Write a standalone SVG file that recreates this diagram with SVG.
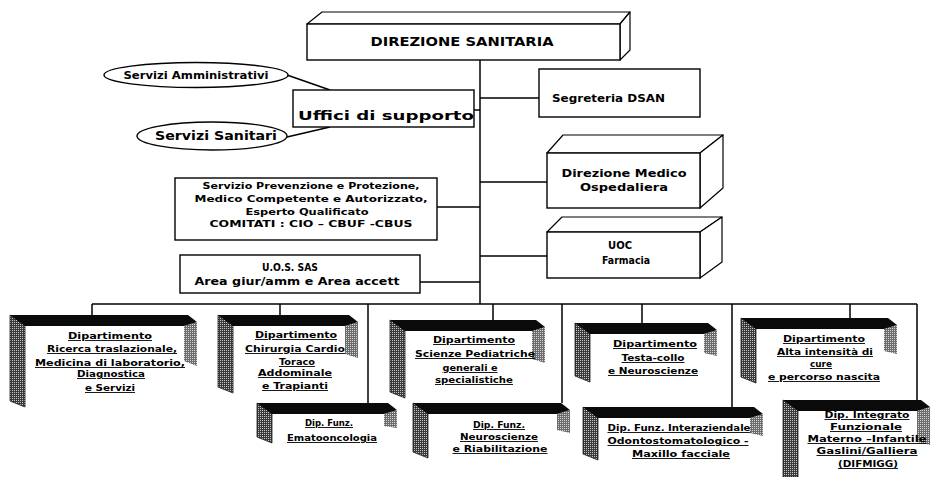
<svg xmlns="http://www.w3.org/2000/svg" width="930" height="477" viewBox="0 0 930 477">
  <defs>
    <!-- coarse halftone used for the shaded sides of the department frames -->
    <pattern id="dither" width="2" height="2" patternUnits="userSpaceOnUse">
      <rect width="2" height="2" fill="#3a3a3a"/>
      <rect width="1" height="1" fill="#c8c8c8"/>
    </pattern>
    <style>
      .box { fill: #fff; stroke: #000; stroke-width: 1.4; }
      .face { fill: #fff; stroke: #000; stroke-width: 1.2; stroke-linejoin: round; }
      .wire { fill: none; stroke: #000; stroke-width: 1.5; }
      .t { font-family: "DejaVu Sans", "Liberation Sans", sans-serif; font-weight: bold; fill: #000; }
      .c { text-anchor: middle; }
      .d { font-size: 9px; text-decoration: underline; text-anchor: middle; }
      .side { fill: url(#dither); stroke: #1a1a1a; stroke-width: 0.8; }
      .rside { fill: url(#dither); opacity: 0.75; }
      .bar { fill: #0a0a0a; }
    </style>
  </defs>

  <rect width="930" height="477" fill="#fff"/>

  <!-- connectors -->
  <g id="connectors" class="wire">
    <line x1="480" y1="60" x2="480" y2="304"/>
    <line x1="480" y1="98" x2="539" y2="98"/>
    <line x1="474" y1="110" x2="480" y2="110"/>
    <line x1="480" y1="182" x2="547" y2="182"/>
    <line x1="437" y1="207" x2="480" y2="207"/>
    <line x1="480" y1="256" x2="547" y2="256"/>
    <line x1="420" y1="282" x2="480" y2="282"/>
    <line x1="287" y1="75" x2="330" y2="90"/>
    <line x1="287" y1="137" x2="330" y2="127"/>
    <!-- horizontal bus to the departments -->
    <line x1="92" y1="304" x2="917" y2="304"/>
    <line x1="92" y1="304" x2="92" y2="315"/>
    <line x1="280" y1="304" x2="280" y2="315"/>
    <line x1="368" y1="304" x2="368" y2="403"/>
    <line x1="493" y1="304" x2="493" y2="320"/>
    <line x1="562" y1="304" x2="562" y2="403"/>
    <line x1="642" y1="304" x2="642" y2="323"/>
    <line x1="732" y1="304" x2="732" y2="407"/>
    <line x1="850" y1="304" x2="850" y2="318"/>
    <line x1="917" y1="304" x2="917" y2="400"/>
  </g>

  <!-- top management block -->
  <g id="direzione-sanitaria">
    <polygon class="face" points="307,24 322,12 630,12 620,24"/>
    <polygon class="face" points="620,24 630,12 630,50 620,60"/>
    <rect class="box" x="307" y="24" width="313" height="36"/>
    <text class="t c" x="462" y="46" font-size="13" textLength="183" lengthAdjust="spacingAndGlyphs">DIREZIONE SANITARIA</text>
  </g>

  <g id="servizi-amministrativi">
    <ellipse class="box" cx="196" cy="75" rx="92" ry="12.5"/>
    <text class="t c" x="196" y="79" font-size="10.5" textLength="145" lengthAdjust="spacingAndGlyphs">Servizi Amministrativi</text>
  </g>

  <g id="servizi-sanitari">
    <ellipse class="box" cx="212" cy="136" rx="75" ry="14"/>
    <text class="t c" x="216" y="140" font-size="12.5" textLength="122" lengthAdjust="spacingAndGlyphs">Servizi Sanitari</text>
  </g>

  <g id="uffici-supporto">
    <rect class="box" x="293" y="90" width="181" height="37"/>
    <text class="t" x="298" y="120" font-size="13" textLength="176" lengthAdjust="spacingAndGlyphs">Uffici di supporto</text>
  </g>

  <g id="segreteria-dsan">
    <rect class="box" x="539" y="69" width="161" height="48"/>
    <text class="t" x="552" y="102" font-size="10" textLength="113" lengthAdjust="spacingAndGlyphs">Segreteria DSAN</text>
  </g>

  <g id="direzione-medico">
    <polygon class="face" points="547,153 563,135 723,135 700,153"/>
    <polygon class="face" points="700,153 723,135 723,188 700,208"/>
    <rect class="box" x="547" y="153" width="153" height="55"/>
    <text class="t c" x="624" y="177" font-size="10" textLength="125" lengthAdjust="spacingAndGlyphs">Direzione Medico</text>
    <text class="t c" x="624" y="191" font-size="10" textLength="88" lengthAdjust="spacingAndGlyphs">Ospedaliera</text>
  </g>

  <g id="uoc-farmacia">
    <polygon class="face" points="547,232 562,217 722,217 700,232"/>
    <polygon class="face" points="700,232 722,217 722,262 700,278"/>
    <rect class="box" x="547" y="232" width="153" height="46"/>
    <text class="t c" x="620" y="249" font-size="10" textLength="24" lengthAdjust="spacingAndGlyphs">UOC</text>
    <text class="t c" x="626" y="264" font-size="10" textLength="48" lengthAdjust="spacingAndGlyphs">Farmacia</text>
  </g>

  <g id="servizio-prevenzione">
    <rect class="box" x="175" y="178" width="262" height="62"/>
    <text class="t c" x="311" y="189" font-size="9" textLength="217" lengthAdjust="spacingAndGlyphs">Servizio Prevenzione e Protezione,</text>
    <text class="t c" x="311" y="202" font-size="9" textLength="233" lengthAdjust="spacingAndGlyphs">Medico Competente e Autorizzato,</text>
    <text class="t c" x="307" y="215" font-size="9" textLength="123" lengthAdjust="spacingAndGlyphs">Esperto Qualificato</text>
    <text class="t c" x="311" y="227" font-size="9" textLength="203" lengthAdjust="spacingAndGlyphs">COMITATI : CIO – CBUF -CBUS</text>
  </g>

  <g id="uos-sas">
    <rect class="box" x="180" y="255" width="240" height="38"/>
    <text class="t c" x="290" y="271" font-size="11" textLength="56" lengthAdjust="spacingAndGlyphs">U.O.S. SAS</text>
    <text class="t c" x="297" y="285" font-size="11" textLength="205" lengthAdjust="spacingAndGlyphs">Area giur/amm  e Area accett</text>
  </g>

  <!-- departments, first row -->
  <g id="dip-ricerca">
    <rect x="25" y="326" width="159" height="81" fill="#fff"/>
    <polygon class="side" points="10,315 25,325 25,407 10,401"/>
    <polygon class="rside" points="184,326 197,322 197,366 184,361"/>
    <polygon class="bar" points="10,315 188,315 197,322 184,326 25,326"/>
    <text class="t d" x="110" y="339" textLength="84" lengthAdjust="spacingAndGlyphs">Dipartimento</text>
    <text class="t d" x="112" y="352" textLength="130" lengthAdjust="spacingAndGlyphs">Ricerca traslazionale,</text>
    <text class="t d" x="110" y="366" textLength="150" lengthAdjust="spacingAndGlyphs">Medicina di laboratorio,</text>
    <text class="t d" x="111" y="377" textLength="68" lengthAdjust="spacingAndGlyphs">Diagnostica</text>
    <text class="t d" x="110" y="391" textLength="50" lengthAdjust="spacingAndGlyphs">e Servizi</text>
  </g>

  <g id="dip-chirurgia">
    <rect x="233" y="326" width="112" height="67" fill="#fff"/>
    <polygon class="side" points="218,315 233,325 233,393 218,387"/>
    <polygon class="rside" points="345,326 358,322 358,358 345,354"/>
    <polygon class="bar" points="218,315 349,315 358,322 345,326 233,326"/>
    <text class="t d" x="296" y="338" textLength="82" lengthAdjust="spacingAndGlyphs">Dipartimento</text>
    <text class="t d" x="295" y="352" textLength="100" lengthAdjust="spacingAndGlyphs">Chirurgia Cardio</text>
    <text class="t d" x="297" y="365" textLength="36" lengthAdjust="spacingAndGlyphs">Toraco</text>
    <text class="t d" x="295" y="376" textLength="74" lengthAdjust="spacingAndGlyphs">Addominale</text>
    <text class="t d" x="295" y="389" textLength="66" lengthAdjust="spacingAndGlyphs">e Trapianti</text>
  </g>

  <g id="dip-pediatria">
    <rect x="405" y="331" width="127" height="67" fill="#fff"/>
    <polygon class="side" points="390,320 405,330 405,398 390,392"/>
    <polygon class="rside" points="532,331 545,327 545,363 532,359"/>
    <polygon class="bar" points="390,320 536,320 545,327 532,331 405,331"/>
    <text class="t d" x="474" y="343" textLength="82" lengthAdjust="spacingAndGlyphs">Dipartimento</text>
    <text class="t d" x="475" y="357" textLength="120" lengthAdjust="spacingAndGlyphs">Scienze Pediatriche</text>
    <text class="t d" x="470" y="371" textLength="55" lengthAdjust="spacingAndGlyphs">generali e</text>
    <text class="t d" x="474" y="383" textLength="78" lengthAdjust="spacingAndGlyphs">specialistiche</text>
  </g>

  <g id="dip-testa-collo">
    <rect x="590" y="334" width="114" height="48" fill="#fff"/>
    <polygon class="side" points="575,323 590,333 590,382 575,376"/>
    <polygon class="rside" points="704,334 717,330 717,356 704,353"/>
    <polygon class="bar" points="575,323 708,323 717,330 704,334 590,334"/>
    <text class="t d" x="655" y="347" textLength="84" lengthAdjust="spacingAndGlyphs">Dipartimento</text>
    <text class="t d" x="653" y="361" textLength="63" lengthAdjust="spacingAndGlyphs">Testa-collo</text>
    <text class="t d" x="653" y="374" textLength="90" lengthAdjust="spacingAndGlyphs">e Neuroscienze</text>
  </g>

  <g id="dip-alta-intensita">
    <rect x="756" y="329" width="128" height="54" fill="#fff"/>
    <polygon class="side" points="741,318 756,328 756,383 741,377"/>
    <polygon class="rside" points="884,329 897,325 897,354 884,351"/>
    <polygon class="bar" points="741,318 888,318 897,325 884,329 756,329"/>
    <text class="t d" x="824" y="342" textLength="82" lengthAdjust="spacingAndGlyphs">Dipartimento</text>
    <text class="t d" x="825" y="355" textLength="96" lengthAdjust="spacingAndGlyphs">Alta intensità di</text>
    <text class="t d" x="821" y="367" textLength="22" lengthAdjust="spacingAndGlyphs">cure</text>
    <text class="t d" x="824" y="380" textLength="112" lengthAdjust="spacingAndGlyphs">e percorso nascita</text>
  </g>

  <!-- departments, second row -->
  <g id="dip-ematooncologia">
    <rect x="272" y="414" width="112" height="29" fill="#fff"/>
    <polygon class="side" points="257,403 272,413 272,443 257,437"/>
    <polygon class="rside" points="384,414 397,410 397,428 384,426"/>
    <polygon class="bar" points="257,403 388,403 397,410 384,414 272,414"/>
    <text class="t d" x="329" y="426" textLength="48" lengthAdjust="spacingAndGlyphs">Dip. Funz.</text>
    <text class="t d" x="332" y="441" textLength="90" lengthAdjust="spacingAndGlyphs">Ematooncologia</text>
  </g>

  <g id="dip-neuroscienze">
    <rect x="428" y="414" width="129" height="44" fill="#fff"/>
    <polygon class="side" points="413,403 428,413 428,458 413,452"/>
    <polygon class="rside" points="557,414 570,410 570,433 557,430"/>
    <polygon class="bar" points="413,403 561,403 570,410 557,414 428,414"/>
    <text class="t d" x="499" y="428" textLength="52" lengthAdjust="spacingAndGlyphs">Dip. Funz.</text>
    <text class="t d" x="499" y="440" textLength="78" lengthAdjust="spacingAndGlyphs">Neuroscienze</text>
    <text class="t d" x="500" y="452" textLength="95" lengthAdjust="spacingAndGlyphs">e Riabilitazione</text>
  </g>

  <g id="dip-odontostomatologico">
    <rect x="598" y="418" width="152" height="42" fill="#fff"/>
    <polygon class="side" points="583,407 598,417 598,460 583,454"/>
    <polygon class="rside" points="750,418 763,414 763,436 750,433"/>
    <polygon class="bar" points="583,407 754,407 763,414 750,418 598,418"/>
    <text class="t d" x="679" y="431" textLength="143" lengthAdjust="spacingAndGlyphs">Dip. Funz. Interaziendale</text>
    <text class="t d" x="678" y="444" textLength="141" lengthAdjust="spacingAndGlyphs">Odontostomatologico -</text>
    <text class="t d" x="681" y="457" textLength="98" lengthAdjust="spacingAndGlyphs">Maxillo facciale</text>
  </g>

  <g id="dip-materno-infantile">
    <rect x="798" y="411" width="119" height="66" fill="#fff"/>
    <polygon class="side" points="783,400 798,410 798,477 783,477"/>
    <polygon class="rside" points="917,411 930,407 930,445 917,442"/>
    <polygon class="bar" points="783,400 921,400 930,407 917,411 798,411"/>
    <text class="t d" x="867" y="418" textLength="85" lengthAdjust="spacingAndGlyphs">Dip. Integrato</text>
    <text class="t d" x="866" y="430" textLength="72" lengthAdjust="spacingAndGlyphs">Funzionale</text>
    <text class="t d" x="867" y="442" textLength="119" lengthAdjust="spacingAndGlyphs">Materno –Infantile</text>
    <text class="t d" x="867" y="454" textLength="101" lengthAdjust="spacingAndGlyphs">Gaslini/Galliera</text>
    <text class="t d" x="868" y="467" textLength="60" lengthAdjust="spacingAndGlyphs">(DIFMIGG)</text>
  </g>
</svg>
